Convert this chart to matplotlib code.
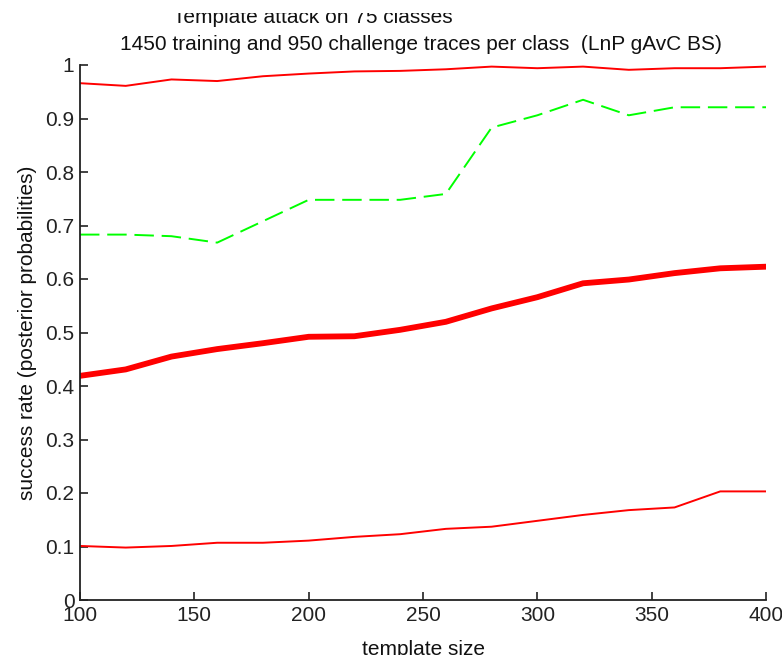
import matplotlib
matplotlib.use("Agg")
import matplotlib.pyplot as plt
from matplotlib.transforms import Bbox, TransformedBbox

plt.rcParams["font.family"] = ["Liberation Sans", "DejaVu Sans"]

template_size = [100, 120, 140, 160, 180, 200, 220, 240, 260, 280, 300, 320, 340, 360, 380, 400]
rate_upper = [0.966, 0.961, 0.973, 0.970, 0.979, 0.984, 0.988, 0.989, 0.992, 0.997, 0.994, 0.997, 0.991, 0.994, 0.994, 0.997]
rate_green = [0.683, 0.683, 0.680, 0.668, 0.708, 0.748, 0.748, 0.748, 0.759, 0.883, 0.906, 0.935, 0.906, 0.921, 0.921, 0.921]
rate_mean = [0.419, 0.431, 0.455, 0.469, 0.480, 0.492, 0.493, 0.505, 0.520, 0.545, 0.566, 0.592, 0.599, 0.611, 0.620, 0.623]
rate_lower = [0.101, 0.098, 0.101, 0.107, 0.107, 0.111, 0.118, 0.123, 0.133, 0.137, 0.148, 0.159, 0.168, 0.173, 0.203, 0.203]

W, H = 782, 655
fig = plt.figure(figsize=(W / 100, H / 100), dpi=100)
ax = fig.add_axes([80 / W, 55 / H, 686 / W, 535 / H])

ax.plot(template_size, rate_upper, color="#ff0000", linewidth=1.4)
ax.plot(template_size, rate_green, color="#00ff00", linewidth=1.4, linestyle=(0, (10, 4)))
ax.plot(template_size, rate_mean, color="#ff0000", linewidth=4.2)
ax.plot(template_size, rate_lower, color="#ff0000", linewidth=1.4)

ax.set_xlim(100, 400)
ax.set_ylim(0, 1)
ax.set_xticks([100, 150, 200, 250, 300, 350, 400])
ax.set_yticks([i / 10 for i in range(11)])
ax.set_yticklabels(["0", "0.1", "0.2", "0.3", "0.4", "0.5", "0.6", "0.7", "0.8", "0.9", "1"])
ax.tick_params(direction="in", length=6, width=1.2, labelsize=15, pad=4, colors="#222222")
for side in ["top", "right"]:
    ax.spines[side].set_visible(False)
for side in ["left", "bottom"]:
    ax.spines[side].set_linewidth(1.3)
    ax.spines[side].set_color("#222222")

ax.set_xlabel("template size", fontsize=15, labelpad=11, color="#111111")
ax.set_ylabel("success rate (posterior probabilities)", fontsize=15, labelpad=6, color="#111111")

# first title line is cut off at the top in the original screenshot
t1 = fig.text(313 / W, 1 - 23 / H, "Template attack on 75 classes",
              ha="center", va="baseline", fontsize=15, color="#111111")
t1.set_clip_box(TransformedBbox(Bbox([[0, 0], [1, 1 - 13 / H]]), fig.transFigure))
t1.set_clip_on(True)
fig.text(421 / W, 1 - 50 / H,
         "1450 training and 950 challenge traces per class  (LnP gAvC BS)",
         ha="center", va="baseline", fontsize=15, color="#111111")

fig.savefig("out.png", dpi=100)
